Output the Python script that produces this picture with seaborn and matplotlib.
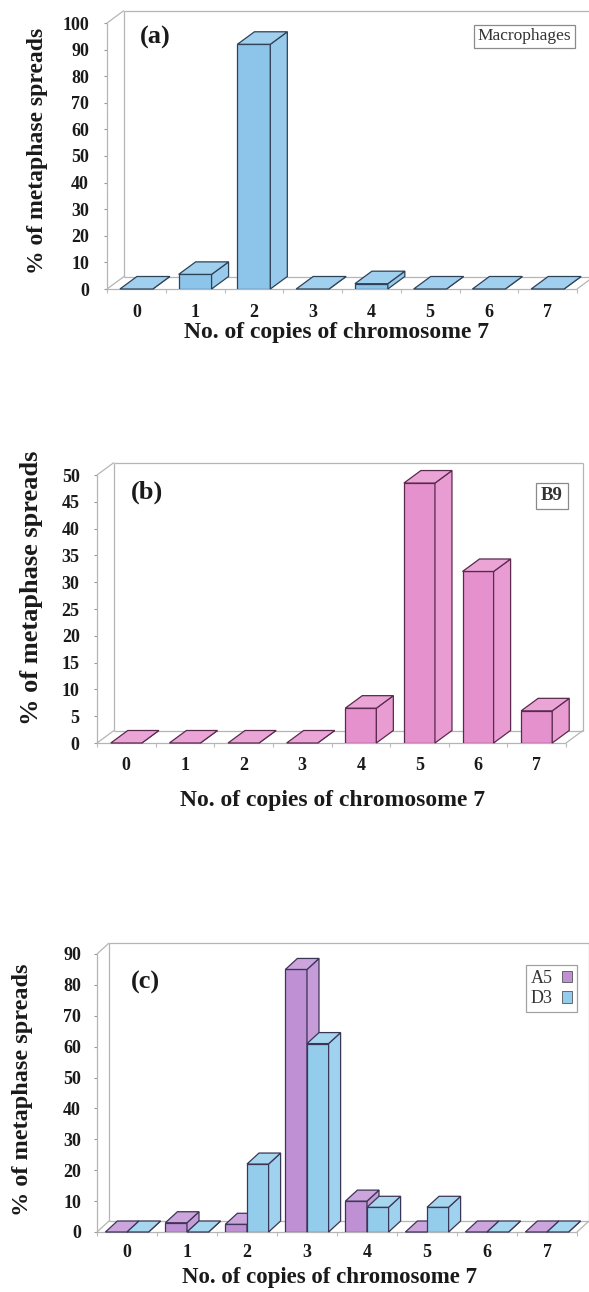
import numpy as np
import pandas as pd
import matplotlib
matplotlib.use("Agg")
import matplotlib.pyplot as plt
from matplotlib.patches import Polygon
from matplotlib.collections import LineCollection
from matplotlib.colors import to_rgb
import seaborn as sns

# Distribution of chromosome 7 copy number (% of metaphase spreads)
copies = ["0", "1", "2", "3", "4", "5", "6", "7"]
macrophages = [0, 5.5, 92, 0, 2, 0, 0, 0]
b9 = [0, 0, 0, 0, 6.5, 48.5, 32, 6]
a5 = [0, 3, 2.5, 85, 10, 0, 0, 0]
d3 = [0, 0, 22, 61, 8, 8, 0, 0]

y_ticks_a = list(range(0, 101, 10))
y_ticks_b = list(range(0, 51, 5))
y_ticks_c = list(range(0, 91, 10))

sns.set_theme(style="ticks")
plt.rcParams["font.family"] = ["Liberation Serif", "DejaVu Serif"]
plt.rcParams["font.weight"] = "bold"
plt.rcParams["axes.labelweight"] = "bold"

fig = plt.figure(figsize=(5.89, 12.92), dpi=100)
W, H = 589.0, 1292.0


def add_axes_px(left, right, bottom, top):
    return fig.add_axes([left / W, 1 - bottom / H, (right - left) / W, (bottom - top) / H])


def lighten(c, f):
    r, g, b = to_rgb(c)
    return (r + (1 - r) * f, g + (1 - g) * f, b + (1 - b) * f)


def depth_in_data(ax, depth_px):
    o = ax.transData.transform((0, 0))
    d = ax.transData.inverted().transform(o + np.asarray(depth_px, float))
    return d[0], d[1]


def box_frame(ax, dx, dy, color="#b5b5b5"):
    x0, x1 = ax.get_xlim()
    y0, y1 = ax.get_ylim()
    segs = [
        [(x0, y0), (x0, y1)],
        [(x0, y0), (x1, y0)],
        [(x0, y0), (x0 + dx, y0 + dy)],
        [(x0, y1), (x0 + dx, y1 + dy)],
        [(x0 + dx, y0 + dy), (x0 + dx, y1 + dy)],
        [(x0 + dx, y1 + dy), (x1 + dx, y1 + dy)],
        [(x1 + dx, y0 + dy), (x1 + dx, y1 + dy)],
        [(x0 + dx, y0 + dy), (x1 + dx, y0 + dy)],
        [(x1, y0), (x1 + dx, y0 + dy)],
    ]
    ax.add_collection(LineCollection(segs, colors=color, linewidths=0.9,
                                     clip_on=False, zorder=1))


def extrude_bars(ax, dx, dy, edge, lw=0.9):
    bars = sorted([p for p in ax.patches if p.get_width() > 0], key=lambda p: p.get_x())
    for k, p in enumerate(bars):
        x, w, h = p.get_x(), p.get_width(), p.get_height()
        fc = p.get_facecolor()[:3]
        z = 3 + k * 0.01
        p.set_zorder(z)
        p.set_edgecolor(edge)
        p.set_linewidth(lw)
        top = Polygon([(x, h), (x + w, h), (x + w + dx, h + dy), (x + dx, h + dy)],
                      closed=True, facecolor=lighten(fc, 0.18), edgecolor=edge,
                      linewidth=lw, zorder=z + 0.005, clip_on=False)
        side = Polygon([(x + w, 0), (x + w + dx, dy), (x + w + dx, h + dy), (x + w, h)],
                       closed=True, facecolor=lighten(fc, 0.1), edgecolor=edge,
                       linewidth=lw, zorder=z + 0.004, clip_on=False)
        ax.add_patch(side)
        ax.add_patch(top)


def style_axes(ax, yticks, ymax, ypad, xpad, depth_px):
    ax.set_xlim(-0.5, 7.5)
    ax.set_ylim(0, ymax)
    ax.set_yticks(yticks)
    ax.set_xticks(np.arange(-0.5, 8.0, 1.0), minor=True)
    for s in ax.spines.values():
        s.set_visible(False)
    ax.tick_params(axis="y", which="major", left=True, length=2.5, width=0.8,
                   color="#999999", pad=ypad, labelsize=13, labelcolor="#1a1a1a")
    ax.tick_params(axis="x", which="major", bottom=True, length=0, pad=xpad,
                   labelsize=13, labelcolor="#1a1a1a")
    ax.tick_params(axis="x", which="minor", bottom=True, length=3, width=0.8,
                   color="#bbbbbb")
    ax.set_facecolor("none")
    dx, dy = depth_in_data(ax, depth_px)
    box_frame(ax, dx, dy)
    return dx, dy


def set_labels(ax, xl, yl, xsize, ysize):
    ax.set_xlabel("No. of copies of chromosome 7", fontsize=xsize, color="#1a1a1a")
    ax.set_ylabel("% of metaphase spreads", fontsize=ysize, color="#1a1a1a")
    ax.xaxis.set_label_coords(*xl)
    ax.yaxis.set_label_coords(*yl)
    ax.xaxis.label.set_va("center")
    ax.yaxis.label.set_va("center")


# ---------------- (a) Macrophages ----------------
ax_a = add_axes_px(107, 577, 289, 23)
sns.barplot(x=copies, y=macrophages, color="#8cc4ea", saturation=1, width=0.56, ax=ax_a)
dx, dy = style_axes(ax_a, y_ticks_a, 100, 10.5, 10.5, (17, 12.5))
extrude_bars(ax_a, dx, dy, "#2e4257")
set_labels(ax_a, (0.489, -0.165), (-0.147, 0.519), 17, 17)
ax_a.text(0.102, 0.947, "(a)", transform=ax_a.transAxes, fontsize=19,
          ha="center", va="center", color="#1a1a1a")
ax_a.text(0.888, 0.951, "Macrophages", transform=ax_a.transAxes, fontsize=12.5,
          fontweight="normal", ha="center", va="center", color="#333333",
          bbox=dict(boxstyle="square,pad=0.2", fc="white", ec="#8a8a8a", lw=0.9))

# ---------------- (b) B9 ----------------
ax_b = add_axes_px(97, 566, 743, 475)
sns.barplot(x=copies, y=b9, color="#e591cd", saturation=1, width=0.53, ax=ax_b)
dx, dy = style_axes(ax_b, y_ticks_b, 50, 10, 10, (17, 12.5))
extrude_bars(ax_b, dx, dy, "#5a2a4e")
set_labels(ax_b, (0.503, -0.213), (-0.139, 0.578), 17, 19)
ax_b.text(0.107, 0.937, "(b)", transform=ax_b.transAxes, fontsize=19,
          ha="center", va="center", color="#1a1a1a")
ax_b.text(0.970, 0.922, "B9", transform=ax_b.transAxes, fontsize=13.5,
          ha="center", va="center", color="#333333",
          bbox=dict(boxstyle="square,pad=0.25", fc="white", ec="#8a8a8a", lw=0.9))

# ---------------- (c) A5 and D3 ----------------
ax_c = add_axes_px(97, 577, 1232, 954)
df_c = pd.DataFrame({
    "copies": copies * 2,
    "pct": a5 + d3,
    "line": ["A5"] * len(copies) + ["D3"] * len(copies),
})
sns.barplot(data=df_c, x="copies", y="pct", hue="line",
            palette={"A5": "#bf91d4", "D3": "#94cdec"}, saturation=1,
            width=0.72, gap=0.0, ax=ax_c)
handles, labels = ax_c.get_legend_handles_labels()
if ax_c.get_legend() is not None:
    ax_c.get_legend().remove()
dx, dy = style_axes(ax_c, y_ticks_c, 90, 9, 8.5, (12, 11))
extrude_bars(ax_c, dx, dy, "#3b3556")
set_labels(ax_c, (0.485, -0.165), (-0.156, 0.511), 16.5, 17.5)
ax_c.text(0.1, 0.899, "(c)", transform=ax_c.transAxes, fontsize=19,
          ha="center", va="center", color="#1a1a1a")
leg = ax_c.legend(handles, labels, loc="upper right", bbox_to_anchor=(1.0, 0.96),
                  markerfirst=False, frameon=True, fancybox=False, fontsize=13,
                  handlelength=0.6, handleheight=0.6, handletextpad=0.5,
                  borderpad=0.25, labelspacing=0.2, borderaxespad=0.0)
leg.get_frame().set_edgecolor("#8a8a8a")
leg.get_frame().set_linewidth(0.9)
for t in leg.get_texts():
    t.set_fontweight("normal")
    t.set_color("#333333")
for h in leg.legend_handles:
    h.set_edgecolor("#555555")
    h.set_linewidth(0.6)
leg.set_zorder(10)

fig.savefig("out.png", dpi=100, facecolor="white")
